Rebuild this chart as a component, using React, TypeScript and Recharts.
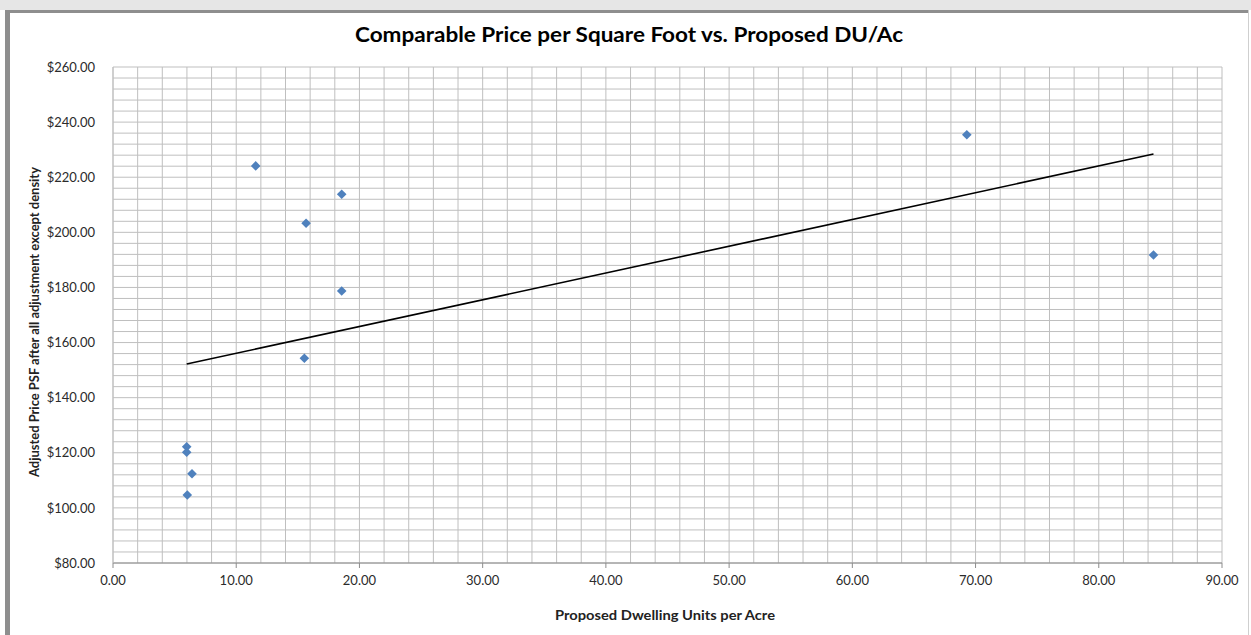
import React from 'react';
import { ScatterChart, Scatter, XAxis, YAxis, CartesianGrid } from 'recharts';

// Proposed dwelling units per acre (x) and adjusted price PSF (y)
const duPerAcre = [11.58, 18.56, 15.67, 18.56, 15.53, 5.98, 5.98, 6.41, 6.03, 69.29, 84.44];
const pricePsf = [224.1, 213.8, 203.3, 178.7, 154.3, 122.2, 120.2, 112.4, 104.7, 235.4, 191.8];

// Linear trendline end points
const trendX = [5.98, 84.44];
const trendY = [152.2, 228.4];

const xTicks = [0, 10, 20, 30, 40, 50, 60, 70, 80, 90];
const yTicks = [80, 100, 120, 140, 160, 180, 200, 220, 240, 260];

const xGridValues = [
  0, 2, 4, 6, 8, 10, 12, 14, 16, 18, 20, 22, 24, 26, 28, 30, 32, 34, 36, 38, 40, 42, 44,
  46, 48, 50, 52, 54, 56, 58, 60, 62, 64, 66, 68, 70, 72, 74, 76, 78, 80, 82, 84, 86, 88, 90,
];
const yGridValues = [
  80, 84, 88, 92, 96, 100, 104, 108, 112, 116, 120, 124, 128, 132, 136, 140, 144, 148, 152,
  156, 160, 164, 168, 172, 176, 180, 184, 188, 192, 196, 200, 204, 208, 212, 216, 220, 224,
  228, 232, 236, 240, 244, 248, 252, 256, 260,
];

const titleText = 'Comparable Price per Square Foot vs. Proposed DU/Ac';
const xTitle = 'Proposed Dwelling  Units per Acre';
const yTitle = 'Adjusted Price PSF after all adjustment except density';

const points = duPerAcre.map((x, i) => ({ x, y: pricePsf[i] }));
const trend = trendX.map((x, i) => ({ x, y: trendY[i] }));

const FONT = 'Lato, "Open Sans", sans-serif';

const Diamond = (props: any) => {
  const { cx, cy } = props;
  if (cx == null || cy == null) return <g />;
  const r = 4.8;
  return (
    <polygon
      points={`${cx},${cy - r} ${cx + r},${cy} ${cx},${cy + r} ${cx - r},${cy}`}
      fill="#4F81BD"
    />
  );
};

const NoShape = () => <g />;

export default function App() {
  return (
    <div style={{ position: 'absolute', left: 0, top: 0, width: 1251, height: 635, background: '#fff', overflow: 'hidden' }}>
      {/* worksheet strip and chart frame */}
      <div style={{ position: 'absolute', left: 0, top: 0, width: 1251, height: 10, background: '#e6e6e6' }} />
      <div style={{ position: 'absolute', left: 5, top: 10, width: 1243, height: 3, background: '#8e8e8e' }} />
      <div style={{ position: 'absolute', left: 5, top: 10, width: 5, height: 625, background: '#8e8e8e' }} />
      <div style={{ position: 'absolute', left: 1248, top: 10, width: 1, height: 625, background: '#cfcfcf' }} />
      <div style={{ position: 'absolute', left: 0, top: 0 }}>
        <ScatterChart
          width={1251}
          height={635}
          margin={{ top: 67, right: 29, left: 53, bottom: 42 }}
        >
          <CartesianGrid
            stroke="#bfbfbf"
            strokeWidth={1}
            verticalValues={xGridValues}
            horizontalValues={yGridValues}
          />
          <XAxis
            type="number"
            dataKey="x"
            domain={[0, 90]}
            ticks={xTicks}
            interval={0}
            height={30}
            tickFormatter={(v: number) => v.toFixed(2)}
            tick={{ fill: '#2b2b2b', fontSize: 13, fontFamily: FONT }}
            tickSize={5}
            tickMargin={8}
            stroke="#8c8c8c"
            allowDataOverflow
          />
          <YAxis
            type="number"
            dataKey="y"
            domain={[80, 260]}
            ticks={yTicks}
            interval={0}
            width={60}
            tickFormatter={(v: number) => `$${v.toFixed(2)}`}
            tick={{ fill: '#2b2b2b', fontSize: 13, fontFamily: FONT }}
            tickLine={false}
            tickSize={5}
            tickMargin={13}
            stroke="#bfbfbf"
            allowDataOverflow
          />
          <Scatter
            data={trend}
            line={{ stroke: '#000', strokeWidth: 1.6 }}
            shape={NoShape}
            isAnimationActive={false}
          />
          <Scatter data={points} shape={Diamond} isAnimationActive={false} />
        </ScatterChart>
      </div>
      <svg
        width={1251}
        height={635}
        style={{ position: 'absolute', left: 0, top: 0, pointerEvents: 'none' }}
      >
        <text
          x={629}
          y={42}
          textAnchor="middle"
          fontFamily={FONT}
          fontWeight="bold"
          fontSize={20}
          fill="#000"
          textLength={548}
          lengthAdjust="spacingAndGlyphs"
        >
          {titleText}
        </text>
        <text
          x={665}
          y={620}
          textAnchor="middle"
          fontFamily={FONT}
          fontWeight="bold"
          fontSize={13.5}
          fill="#222"
          textLength={220}
          lengthAdjust="spacingAndGlyphs"
        >
          {xTitle}
        </text>
        <text
          transform="translate(39, 322) rotate(-90)"
          x={0}
          y={0}
          textAnchor="middle"
          fontFamily={FONT}
          fontWeight="bold"
          fontSize={13}
          fill="#222"
          textLength={310}
          lengthAdjust="spacingAndGlyphs"
        >
          {yTitle}
        </text>
      </svg>
    </div>
  );
}
